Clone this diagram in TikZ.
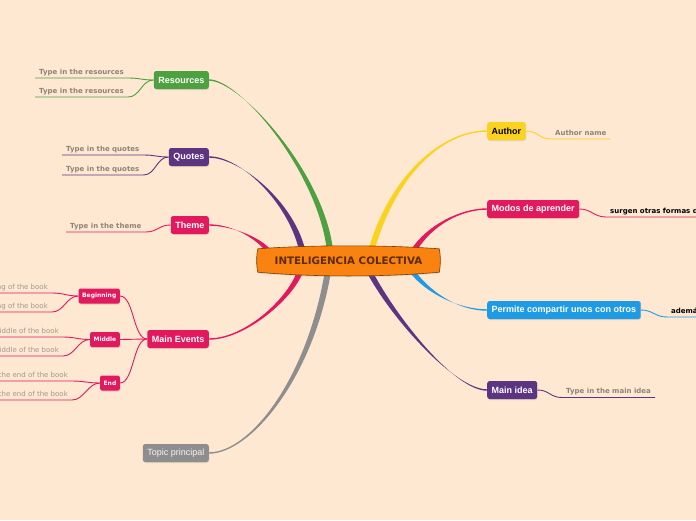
\documentclass[tikz,border=0pt]{standalone}
\usepackage{fontspec}
\setmainfont{Liberation Sans}
\newfontfamily\dv{DejaVu Sans}
\usetikzlibrary{calc,shadows}
\definecolor{bg}{HTML}{FEE8D2}
\definecolor{cgreen}{HTML}{4DA140}
\definecolor{cpurple}{HTML}{5C3480}
\definecolor{ccrimson}{HTML}{E3195D}
\definecolor{cgray}{HTML}{8E8E8E}
\definecolor{cyellow}{HTML}{FBD31F}
\definecolor{cblue}{HTML}{1F9BE5}
\definecolor{corange}{HTML}{FA8210}
\definecolor{cbrown}{HTML}{7A4000}
\definecolor{ctext}{HTML}{5A2C00}
\definecolor{cchild}{HTML}{8C8477}
\definecolor{csub}{HTML}{A0988C}
\pgfdeclarelayer{back}
\pgfsetlayers{back,main}
\newcommand\mmbranch[5]{\fill[#1] ($(#2)+(-3.1,0)$) .. controls +(#3) and +(#4) .. ($(#5)+(0,-0.7)$) -- ($(#5)+(0,0.7)$) .. controls +(#4) and +(#3) .. ($(#2)+(3.1,0)$) -- cycle;}
\begin{document}
\begin{tikzpicture}[x=1pt,y=-1pt,
  topic/.style={rounded corners=2.5pt, minimum height=18pt, inner xsep=4.5pt, inner ysep=0pt,
    font=\bfseries\fontsize{9}{10}\selectfont, text=white,
    drop shadow={opacity=0.22, shadow xshift=0.5pt, shadow yshift=-1pt}},
  subtopic/.style={rounded corners=2pt, minimum height=15pt, inner xsep=3.5pt, inner ysep=0pt,
    fill=ccrimson, font=\dv\bfseries\fontsize{6}{7}\selectfont, text=white,
    drop shadow={opacity=0.25, shadow xshift=0.5pt, shadow yshift=-1pt}},
  child/.style={font=\dv\bfseries\fontsize{7}{8}\selectfont, text=cchild, inner xsep=4pt,
    inner ysep=2pt, text height=5.2pt, text depth=1.6pt},
  subchild/.style={font=\dv\fontsize{7}{8}\selectfont, text=csub, inner xsep=4pt,
    inner ysep=2pt, text height=5.2pt, text depth=1.6pt},
  thinline/.style={line width=0.9pt}
]
\useasboundingbox (0,0) rectangle (696,520);
\clip (0,0) rectangle (696,520);

% central node frame
\node[minimum width=181pt, minimum height=23pt, inner sep=0pt] (c) at (348.5,260.5) {};
\draw[fill=corange, draw=cbrown, line width=0.6pt,
      drop shadow={opacity=0.2, shadow xshift=0pt, shadow yshift=-1.2pt}]
  (c.north west) .. controls ($(c.north west)!0.3!(c.north east)+(0,-4)$) and ($(c.north west)!0.7!(c.north east)+(0,-4)$) .. (c.north east)
  .. controls ($(c.north east)+(1.5,6)$) and ($(c.south east)+(1.5,-6)$) .. (c.south east)
  .. controls ($(c.south west)!0.7!(c.south east)+(0,5)$) and ($(c.south west)!0.3!(c.south east)+(0,5)$) .. (c.south west)
  .. controls ($(c.south west)+(-1.5,-6)$) and ($(c.north west)+(-1.5,6)$) .. cycle;
\node[font=\dv\bfseries\fontsize{10.3}{12}\selectfont, text=ctext] (ct) at ($(c)+(0,0.5)$) {INTELIGENCIA COLECTIVA};

% main topics
\node[topic, fill=cgreen, anchor=east] (res) at (209,80) {Resources};
\node[topic, fill=cpurple, anchor=east] (quo) at (209,157) {Quotes};
\node[topic, fill=ccrimson, anchor=east] (the) at (209,225) {Theme};
\node[topic, fill=ccrimson, anchor=east] (mev) at (209,339) {Main Events};
\node[topic, fill=cgray, anchor=east, font=\fontsize{9}{10}\selectfont, text=white!92!gray] (top) at (209,453) {Topic principal};
\node[topic, fill=cyellow, text=black, anchor=west] (aut) at (487,131) {Author};
\node[topic, fill=ccrimson, anchor=west] (mod) at (487,209) {Modos de aprender};
\node[topic, fill=cblue, anchor=west] (per) at (487,310) {Permite compartir unos con otros};
\node[topic, fill=cpurple, anchor=west] (mid) at (487,390) {Main idea};

% main events subtopics
\node[subtopic, anchor=east] (beg) at (120,296) {Beginning};
\node[subtopic, anchor=east] (mdl) at (120,339.5) {Middle};
\node[subtopic, anchor=east] (endn) at (120,383) {End};

% child texts
\node[child, anchor=south west] (r1) at (35,78) {Type in the resources};
\node[child, anchor=south west] (r2) at (35,97) {Type in the resources};
\node[child, anchor=south west] (q1) at (62,155) {Type in the quotes};
\node[child, anchor=south west] (q2) at (62,175) {Type in the quotes};
\node[child, anchor=south west] (t1) at (66,232) {Type in the theme};
\node[subchild, anchor=south east] (b1) at (52,293) {Type in the beginning of the book};
\node[subchild, anchor=south east] (b2) at (52,312) {Type in the beginning of the book};
\node[subchild, anchor=south east] (m1) at (63,337) {Type in the middle of the book};
\node[subchild, anchor=south east] (m2) at (63,356) {Type in the middle of the book};
\node[subchild, anchor=south east] (e1) at (72,381) {Type in the end of the book};
\node[subchild, anchor=south east] (e2) at (72,400) {Type in the end of the book};
\node[child, anchor=south west] (a1) at (551,139) {Author name};
\node[child, anchor=south west, text=black] (mo1) at (606,217) {surgen otras formas de};
\node[child, anchor=south west, text=black] (pe1) at (667,317) {además};
\node[child, anchor=south west] (mi1) at (562,397.5) {Type in the main idea};

\begin{pgfonlayer}{back}
\fill[bg] (0,0) rectangle (696,520);
% branch start points
\coordinate (sRes) at ($(c.north west)+(72,0)$);
\coordinate (sQuo) at ($(c.north west)+(44,0)$);
\coordinate (sThe) at ($(c.north west)+(9,0)$);
\coordinate (sAut) at ($(c.north west)+(114,0)$);
\coordinate (sMod) at ($(c.north west)+(157,0)$);
\coordinate (sMev) at ($(c.south west)+(42,0)$);
\coordinate (sTop) at ($(c.south west)+(70,0)$);
\coordinate (sMid) at ($(c.south west)+(112,0)$);
\coordinate (sPer) at ($(c.south west)+(155,0)$);
% tapered branches
\mmbranch{cgreen}{sRes}{-10,-78}{31,0}{res.east}
\mmbranch{cpurple}{sQuo}{-12,-48}{31,0}{quo.east}
\mmbranch{ccrimson}{sThe}{-12,-13}{21,0}{the.east}
\mmbranch{ccrimson}{sMev}{-10,27}{36,0}{mev.east}
\mmbranch{cgray}{sTop}{-18,107}{41,0}{top.east}
\mmbranch{cyellow}{sAut}{23,-78}{-42,0}{aut.west}
\mmbranch{ccrimson}{sMod}{15,-23}{-27,0}{mod.west}
\mmbranch{cblue}{sPer}{17,22}{-27,0}{per.west}
\mmbranch{cpurple}{sMid}{25,47}{-32,0}{mid.west}
% thin connectors
\draw[thinline, cgreen] (res.west) .. controls +(-12,0) and +(12,0) .. (r1.south east) -- (r1.south west);
\draw[thinline, cgreen] (res.west) .. controls +(-12,0) and +(12,0) .. (r2.south east) -- (r2.south west);
\draw[thinline, cpurple] (quo.west) .. controls +(-12,0) and +(12,0) .. (q1.south east) -- (q1.south west);
\draw[thinline, cpurple] (quo.west) .. controls +(-12,0) and +(12,0) .. (q2.south east) -- (q2.south west);
\draw[thinline, ccrimson] (the.west) .. controls +(-12,0) and +(12,0) .. (t1.south east) -- (t1.south west);
\draw[thinline, ccrimson] (mev.west) .. controls +(-14,0) and +(14,0) .. (beg.east);
\draw[thinline, ccrimson] (mev.west) -- (mdl.east);
\draw[thinline, ccrimson] (mev.west) .. controls +(-14,0) and +(14,0) .. (endn.east);
\draw[thinline, ccrimson] (beg.west) .. controls +(-12,0) and +(12,0) .. (b1.south east) -- (b1.south west);
\draw[thinline, ccrimson] (beg.west) .. controls +(-12,0) and +(12,0) .. (b2.south east) -- (b2.south west);
\draw[thinline, ccrimson] (mdl.west) .. controls +(-12,0) and +(12,0) .. (m1.south east) -- (m1.south west);
\draw[thinline, ccrimson] (mdl.west) .. controls +(-12,0) and +(12,0) .. (m2.south east) -- (m2.south west);
\draw[thinline, ccrimson] (endn.west) .. controls +(-12,0) and +(12,0) .. (e1.south east) -- (e1.south west);
\draw[thinline, ccrimson] (endn.west) .. controls +(-12,0) and +(12,0) .. (e2.south east) -- (e2.south west);
\draw[thinline, cyellow] (aut.east) .. controls +(12,0) and +(-12,0) .. (a1.south west) -- (a1.south east);
\draw[thinline, ccrimson] (mod.east) .. controls +(12,0) and +(-12,0) .. (mo1.south west) -- (mo1.south east);
\draw[thinline, cblue] (per.east) .. controls +(12,0) and +(-12,0) .. (pe1.south west) -- (pe1.south east);
\draw[thinline, cpurple] (mid.east) .. controls +(12,0) and +(-12,0) .. (mi1.south west) -- (mi1.south east);
\end{pgfonlayer}
\end{tikzpicture}
\end{document}
